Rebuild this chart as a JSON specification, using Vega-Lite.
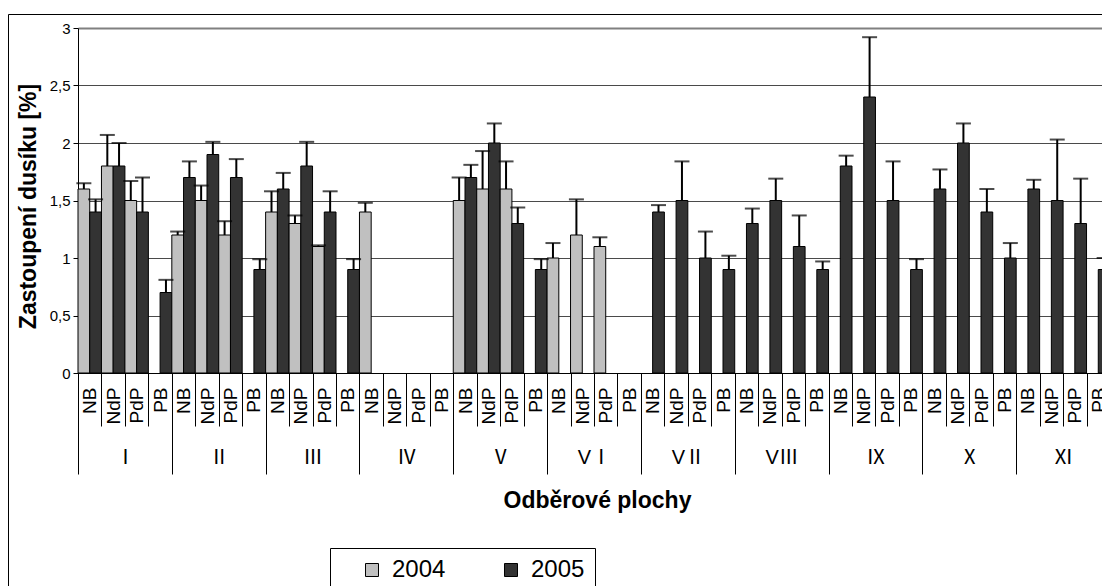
{
  "$schema": "https://vega.github.io/schema/vega-lite/v6.json",
  "width": 1104,
  "height": 582,
  "autosize": {"type": "none"},
  "padding": {"left": 8, "top": 14, "right": -10, "bottom": -10},
  "background": "white",
  "config": {
    "view": {"stroke": "black", "strokeWidth": 1, "fill": "white"},
    "font": "Liberation Sans",
    "axis": {"labelColor": "black", "titleColor": "black", "labelFont": "Liberation Sans", "titleFont": "Liberation Sans"},
    "legend": {"labelFont": "Liberation Sans"}
  },
  "datasets": {
    "nitrogen": [
      {"slot": "Ⅰ|NB", "year": "2004", "value": 1.6, "upper": 1.65},
      {"slot": "Ⅰ|NB", "year": "2005", "value": 1.4, "upper": 1.51},
      {"slot": "Ⅰ|NdP", "year": "2004", "value": 1.8, "upper": 2.07},
      {"slot": "Ⅰ|NdP", "year": "2005", "value": 1.8, "upper": 2.0},
      {"slot": "Ⅰ|PdP", "year": "2004", "value": 1.5, "upper": 1.67},
      {"slot": "Ⅰ|PdP", "year": "2005", "value": 1.4, "upper": 1.7},
      {"slot": "Ⅰ|PB", "year": "2005", "value": 0.7, "upper": 0.81},
      {"slot": "Ⅱ|NB", "year": "2004", "value": 1.2, "upper": 1.23},
      {"slot": "Ⅱ|NB", "year": "2005", "value": 1.7, "upper": 1.84},
      {"slot": "Ⅱ|NdP", "year": "2004", "value": 1.5, "upper": 1.63},
      {"slot": "Ⅱ|NdP", "year": "2005", "value": 1.9, "upper": 2.01},
      {"slot": "Ⅱ|PdP", "year": "2004", "value": 1.2, "upper": 1.32},
      {"slot": "Ⅱ|PdP", "year": "2005", "value": 1.7, "upper": 1.86},
      {"slot": "Ⅱ|PB", "year": "2005", "value": 0.9, "upper": 0.99},
      {"slot": "Ⅲ|NB", "year": "2004", "value": 1.4, "upper": 1.58},
      {"slot": "Ⅲ|NB", "year": "2005", "value": 1.6, "upper": 1.74},
      {"slot": "Ⅲ|NdP", "year": "2004", "value": 1.3, "upper": 1.37},
      {"slot": "Ⅲ|NdP", "year": "2005", "value": 1.8, "upper": 2.01},
      {"slot": "Ⅲ|PdP", "year": "2004", "value": 1.1, "upper": 1.11},
      {"slot": "Ⅲ|PdP", "year": "2005", "value": 1.4, "upper": 1.58},
      {"slot": "Ⅲ|PB", "year": "2005", "value": 0.9, "upper": 0.99},
      {"slot": "Ⅳ|NB", "year": "2004", "value": 1.4, "upper": 1.48},
      {"slot": "Ⅴ|NB", "year": "2004", "value": 1.5, "upper": 1.7},
      {"slot": "Ⅴ|NB", "year": "2005", "value": 1.7, "upper": 1.81},
      {"slot": "Ⅴ|NdP", "year": "2004", "value": 1.6, "upper": 1.93},
      {"slot": "Ⅴ|NdP", "year": "2005", "value": 2.0, "upper": 2.17},
      {"slot": "Ⅴ|PdP", "year": "2004", "value": 1.6, "upper": 1.84},
      {"slot": "Ⅴ|PdP", "year": "2005", "value": 1.3, "upper": 1.44},
      {"slot": "Ⅴ|PB", "year": "2005", "value": 0.9, "upper": 0.99},
      {"slot": "VⅠ|NB", "year": "2004", "value": 1.0, "upper": 1.13},
      {"slot": "VⅠ|NdP", "year": "2004", "value": 1.2, "upper": 1.51},
      {"slot": "VⅠ|PdP", "year": "2004", "value": 1.1, "upper": 1.18},
      {"slot": "VⅡ|NB", "year": "2005", "value": 1.4, "upper": 1.46},
      {"slot": "VⅡ|NdP", "year": "2005", "value": 1.5, "upper": 1.84},
      {"slot": "VⅡ|PdP", "year": "2005", "value": 1.0, "upper": 1.23},
      {"slot": "VⅡ|PB", "year": "2005", "value": 0.9, "upper": 1.02},
      {"slot": "VⅢ|NB", "year": "2005", "value": 1.3, "upper": 1.43},
      {"slot": "VⅢ|NdP", "year": "2005", "value": 1.5, "upper": 1.69},
      {"slot": "VⅢ|PdP", "year": "2005", "value": 1.1, "upper": 1.37},
      {"slot": "VⅢ|PB", "year": "2005", "value": 0.9, "upper": 0.97},
      {"slot": "Ⅸ|NB", "year": "2005", "value": 1.8, "upper": 1.89},
      {"slot": "Ⅸ|NdP", "year": "2005", "value": 2.4, "upper": 2.92},
      {"slot": "Ⅸ|PdP", "year": "2005", "value": 1.5, "upper": 1.84},
      {"slot": "Ⅸ|PB", "year": "2005", "value": 0.9, "upper": 0.99},
      {"slot": "Ⅹ|NB", "year": "2005", "value": 1.6, "upper": 1.77},
      {"slot": "Ⅹ|NdP", "year": "2005", "value": 2.0, "upper": 2.17},
      {"slot": "Ⅹ|PdP", "year": "2005", "value": 1.4, "upper": 1.6},
      {"slot": "Ⅹ|PB", "year": "2005", "value": 1.0, "upper": 1.13},
      {"slot": "Ⅺ|NB", "year": "2005", "value": 1.6, "upper": 1.68},
      {"slot": "Ⅺ|NdP", "year": "2005", "value": 1.5, "upper": 2.03},
      {"slot": "Ⅺ|PdP", "year": "2005", "value": 1.3, "upper": 1.69},
      {"slot": "Ⅺ|PB", "year": "2005", "value": 0.9, "upper": 1.0}
    ],
    "plots": [
      {"g": "Ⅰ"}, {"g": "Ⅱ"}, {"g": "Ⅲ"}, {"g": "Ⅳ"}, {"g": "Ⅴ"}, {"g": "VⅠ"},
      {"g": "VⅡ"}, {"g": "VⅢ"}, {"g": "Ⅸ"}, {"g": "Ⅹ"}, {"g": "Ⅺ"}
    ]
  },
  "layer": [
    {
      "data": {"name": "nitrogen"},
      "encoding": {
        "x": {
          "field": "slot",
          "type": "nominal",
          "scale": {
            "domain": [
              "Ⅰ|NB", "Ⅰ|NdP", "Ⅰ|PdP", "Ⅰ|PB",
              "Ⅱ|NB", "Ⅱ|NdP", "Ⅱ|PdP", "Ⅱ|PB",
              "Ⅲ|NB", "Ⅲ|NdP", "Ⅲ|PdP", "Ⅲ|PB",
              "Ⅳ|NB", "Ⅳ|NdP", "Ⅳ|PdP", "Ⅳ|PB",
              "Ⅴ|NB", "Ⅴ|NdP", "Ⅴ|PdP", "Ⅴ|PB",
              "VⅠ|NB", "VⅠ|NdP", "VⅠ|PdP", "VⅠ|PB",
              "VⅡ|NB", "VⅡ|NdP", "VⅡ|PdP", "VⅡ|PB",
              "VⅢ|NB", "VⅢ|NdP", "VⅢ|PdP", "VⅢ|PB",
              "Ⅸ|NB", "Ⅸ|NdP", "Ⅸ|PdP", "Ⅸ|PB",
              "Ⅹ|NB", "Ⅹ|NdP", "Ⅹ|PdP", "Ⅹ|PB",
              "Ⅺ|NB", "Ⅺ|NdP", "Ⅺ|PdP", "Ⅺ|PB"
            ],
            "range": [70, 1102],
            "paddingInner": 0,
            "paddingOuter": 0
          },
          "axis": {
            "orient": "bottom",
            "offset": -223,
            "title": null,
            "labelExpr": "split(datum.value, '|')[1]",
            "labelAngle": 270,
            "labelAlign": "right",
            "labelBaseline": "middle",
            "labelFontSize": 19,
            "labelPadding": -39,
            "labelOverlap": false,
            "labelBound": false,
            "tickBand": "extent",
            "tickSize": 53,
            "tickColor": "black",
            "tickWidth": 1,
            "domainColor": "black",
            "domainWidth": 1,
            "grid": false
          }
        },
        "xOffset": {
          "field": "year",
          "type": "nominal",
          "scale": {"domain": ["2004", "2005"], "paddingInner": 0, "paddingOuter": 0}
        }
      },
      "layer": [
        {
          "mark": {"type": "bar", "stroke": "black", "strokeWidth": 1},
          "encoding": {
            "y": {
              "field": "value",
              "type": "quantitative",
              "scale": {"domain": [0, 3], "range": [359, 14], "nice": false},
              "axis": {
                "orient": "left",
                "offset": -70,
                "title": "Zastoupení dusíku [%]",
                "titleFontSize": 23,
                "titleFontWeight": "bold",
                "titleAngle": 270,
                "titleAlign": "center",
                "titleBaseline": "middle",
                "titleX": -50,
                "titleY": 192,
                "values": [0, 0.5, 1, 1.5, 2, 2.5, 3],
                "labelExpr": "replace(toString(datum.value), '.', ',')",
                "labelFontSize": 15,
                "labelPadding": 3,
                "tickSize": 5,
                "tickColor": "black",
                "domainColor": "black",
                "grid": true,
                "gridColor": {"condition": {"test": "datum.value === 3", "value": "#808080"}, "value": "#4a4a4a"},
                "gridWidth": {"condition": {"test": "datum.value === 3", "value": 2}, "value": 1}
              }
            },
            "fill": {
              "field": "year",
              "type": "nominal",
              "scale": {"domain": ["2004", "2005"], "range": ["#C0C0C0", "#333333"]},
              "legend": {
                "title": null,
                "orient": "none",
                "legendX": 322,
                "legendY": 534,
                "direction": "horizontal",
                "symbolType": "square",
                "symbolSize": 169,
                "symbolStrokeColor": "black",
                "symbolStrokeWidth": 1,
                "symbolOffset": 20,
                "labelOffset": 8,
                "labelFontSize": 24,
                "labelColor": "black",
                "columnPadding": 33,
                "padding": 10,
                "strokeColor": "black",
                "fillColor": "white"
              }
            }
          }
        },
        {
          "mark": {"type": "rule", "color": "black", "strokeWidth": 2},
          "encoding": {
            "y": {"field": "value", "type": "quantitative"},
            "y2": {"field": "upper"}
          }
        },
        {
          "mark": {"type": "tick", "color": "black", "orient": "horizontal", "size": 15, "thickness": 2},
          "encoding": {
            "y": {"field": "upper", "type": "quantitative"}
          }
        }
      ]
    },
    {
      "data": {"name": "plots"},
      "mark": {"type": "rule", "opacity": 0},
      "encoding": {
        "x": {
          "field": "g",
          "type": "nominal",
          "scale": {
            "domain": ["Ⅰ", "Ⅱ", "Ⅲ", "Ⅳ", "Ⅴ", "VⅠ", "VⅡ", "VⅢ", "Ⅸ", "Ⅹ", "Ⅺ"],
            "range": [70, 1102],
            "paddingInner": 0,
            "paddingOuter": 0
          },
          "axis": {
            "orient": "bottom",
            "offset": -223,
            "domain": false,
            "grid": false,
            "tickBand": "extent",
            "tickSize": 101,
            "tickColor": "black",
            "tickWidth": 1,
            "labelAngle": 0,
            "labelFont": "Liberation Sans, Noto Sans CJK JP",
            "labelFontSize": 20,
            "labelBaseline": "alphabetic",
            "labelPadding": -11,
            "labelOverlap": false,
            "labelBound": false,
            "title": "Odběrové plochy",
            "titleFontSize": 23,
            "titleFontWeight": "bold",
            "titleAlign": "center",
            "titleBaseline": "alphabetic",
            "titleX": 589,
            "titleY": 134
          }
        }
      }
    }
  ],
  "resolve": {
    "scale": {"x": "independent"},
    "axis": {"x": "independent", "y": "independent"}
  }
}
